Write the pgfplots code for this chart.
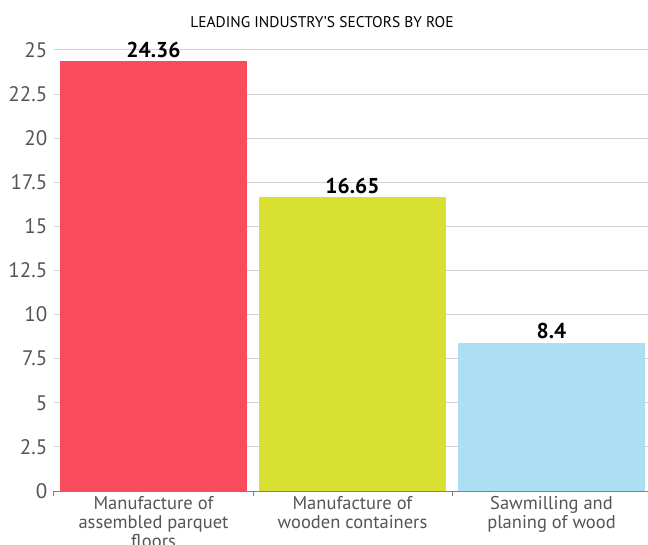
\documentclass[border=0pt]{standalone}
\usepackage{pgfplots}
\pgfplotsset{compat=1.18}
\usepackage{fontspec}
\setmainfont{PT Sans}

\definecolor{barred}{RGB}{250,75,92}
\definecolor{baryellow}{RGB}{216,224,50}
\definecolor{barblue}{RGB}{172,223,241}
\definecolor{gridgray}{RGB}{210,210,210}
\definecolor{ticktext}{RGB}{85,85,85}

\begin{document}
\begin{tikzpicture}[x=1pt,y=1pt]
\path[use as bounding box] (0,0) rectangle (648,544);
\begin{axis}[
	at={(54pt,53pt)}, anchor=south west,
	scale only axis,
	width=597pt, height=441pt,
	xmin=-0.5, xmax=2.5,
	ymin=0, ymax=25,
	axis x line=bottom, axis y line=left,
	x axis line style={draw=gray, line width=1pt, -},
	y axis line style={draw=none},
	ytick={0,2.5,...,25},
	ymajorgrids,
	major grid style={draw=gridgray, line width=1pt},
	major y tick style={draw=none},
	/pgf/number format/assume math mode=true,
	yticklabel style={font=\fontsize{21}{23}\selectfont, text=ticktext, xshift=1pt},
	xtick={0,1,2},
	xticklabels={Manufacture of\\assembled parquet\\floors, Manufacture of\\wooden containers, Sawmilling and\\planing of wood},
	major x tick style={draw=none},
	minor xtick={-0.5,0.5,1.5,2.5},
	minor x tick style={draw=gray, line width=1pt},
	minor tick length=5pt,
	tick align=outside,
	xticklabel style={align=center, font=\fontsize{18.5}{19}\selectfont, text=ticktext, yshift=2pt},
	ybar, bar width=187pt, bar shift=0pt,
	nodes near coords={\pgfmathprintnumber[assume math mode=true]{\pgfplotspointmeta}},
	nodes near coords style={font=\fontsize{21.5}{23}\selectfont\bfseries, text=black, yshift=0pt},
	clip=false,
]
\addplot[draw=none, fill=barred] coordinates {(0,24.36)};
\addplot[draw=none, fill=baryellow] coordinates {(1,16.65)};
\addplot[draw=none, fill=barblue] coordinates {(2,8.4)};
\end{axis}
\node[font=\fontsize{15.5}{17}\selectfont, text=black] at (322,522) {LEADING INDUSTRY'S SECTORS BY ROE};
\end{tikzpicture}
\end{document}
